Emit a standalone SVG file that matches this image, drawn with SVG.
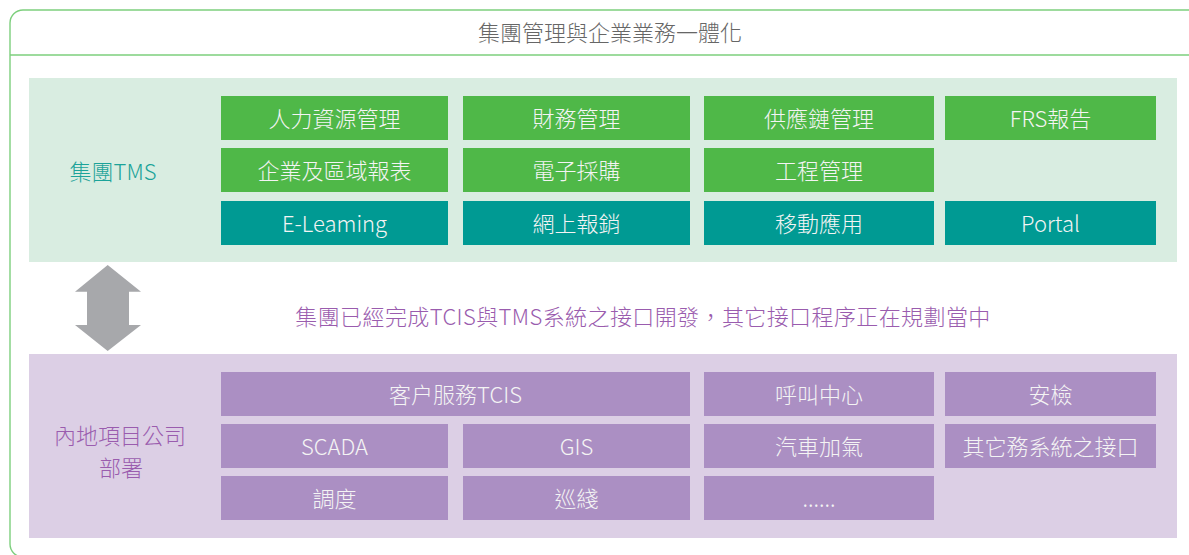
<svg xmlns="http://www.w3.org/2000/svg" width="1189" height="555" viewBox="0 0 1189 555">
  <style>
    text { font-family: "Noto Sans CJK TC", "Noto Sans CJK SC", "Liberation Sans", sans-serif; font-weight: 300; text-anchor: middle; dominant-baseline: central; }
    .title { font-size: 22px; fill: #666666; }
    .lbl { font-size: 22px; fill: #f4f4f4; }
    .g { fill: #4fb848; }
    .t { fill: #009a93; }
    .p { fill: #ab8fc3; }
    .side-g { font-size: 22px; fill: #1ba399; }
    .side-p { font-size: 22px; fill: #9a5cae; }
    .mid { font-size: 22px; fill: #9a5cae; letter-spacing: 0.4px; }
  </style>
  <rect x="10" y="10" width="1192" height="547" rx="13" fill="#ffffff" stroke="#7dcf7d" stroke-width="1.4"/>
  <line x1="10" y1="55" x2="1189" y2="55" stroke="#7dcf7d" stroke-width="1.4"/>
  <text class="title" x="610" y="31">集團管理與企業業務一體化</text>

  <rect x="29" y="78" width="1148" height="184" fill="#d9ede1"/>
  <rect x="29" y="354" width="1148" height="184" fill="#dccfe5"/>

  <g id="group-tms"><text class="side-g" x="113" y="170">集團TMS</text></g>
  <g id="mainland"><text class="side-p" x="120" y="434">內地項目公司</text><text class="side-p" x="121" y="466">部署</text></g>

  <g id="n-hr"><rect class="g" x="221" y="96" width="227" height="44"/><text class="lbl" x="334.5" y="117">人力資源管理</text></g>
  <g id="n-fin"><rect class="g" x="463" y="96" width="227" height="44"/><text class="lbl" x="576.5" y="117">財務管理</text></g>
  <g id="n-scm"><rect class="g" x="704" y="96" width="230" height="44"/><text class="lbl" x="819" y="117">供應鏈管理</text></g>
  <g id="n-frs"><rect class="g" x="945" y="96" width="211" height="44"/><text class="lbl" x="1050.5" y="117">FRS報告</text></g>
  <g id="n-rep"><rect class="g" x="221" y="148" width="227" height="44"/><text class="lbl" x="334.5" y="169">企業及區域報表</text></g>
  <g id="n-ep"><rect class="g" x="463" y="148" width="227" height="44"/><text class="lbl" x="576.5" y="169">電子採購</text></g>
  <g id="n-eng"><rect class="g" x="704" y="148" width="230" height="44"/><text class="lbl" x="819" y="169">工程管理</text></g>
  <g id="n-el"><rect class="t" x="221" y="201" width="227" height="44"/><text class="lbl" x="334.5" y="222">E-Leaming</text></g>
  <g id="n-exp"><rect class="t" x="463" y="201" width="227" height="44"/><text class="lbl" x="576.5" y="222">網上報銷</text></g>
  <g id="n-mob"><rect class="t" x="704" y="201" width="230" height="44"/><text class="lbl" x="819" y="222">移動應用</text></g>
  <g id="n-portal"><rect class="t" x="945" y="201" width="211" height="44"/><text class="lbl" x="1050.5" y="222">Portal</text></g>

  <g id="connectors">
    <polygon points="107.7,265 141,291.7 129,291.7 129,325 141,325 107.7,351 75,325 87,325 87,291.7 75,291.7" fill="#a7a8ab"/>
  </g>
  <text class="mid" x="643" y="315">集團已經完成TCIS與TMS系統之接口開發，其它接口程序正在規劃當中</text>

  <g id="n-tcis"><rect class="p" x="221" y="372" width="469" height="44"/><text class="lbl" x="455.5" y="393">客户服務TCIS</text></g>
  <g id="n-call"><rect class="p" x="704" y="372" width="230" height="44"/><text class="lbl" x="819" y="393">呼叫中心</text></g>
  <g id="n-safe"><rect class="p" x="945" y="372" width="211" height="44"/><text class="lbl" x="1050.5" y="393">安檢</text></g>
  <g id="n-scada"><rect class="p" x="221" y="424" width="227" height="44"/><text class="lbl" x="334.5" y="445">SCADA</text></g>
  <g id="n-gis"><rect class="p" x="463" y="424" width="227" height="44"/><text class="lbl" x="576.5" y="445">GIS</text></g>
  <g id="n-cng"><rect class="p" x="704" y="424" width="230" height="44"/><text class="lbl" x="819" y="445">汽車加氣</text></g>
  <g id="n-other"><rect class="p" x="945" y="424" width="211" height="44"/><text class="lbl" x="1050.5" y="445">其它務系統之接口</text></g>
  <g id="n-disp"><rect class="p" x="221" y="476" width="227" height="44"/><text class="lbl" x="334.5" y="497">調度</text></g>
  <g id="n-patrol"><rect class="p" x="463" y="476" width="227" height="44"/><text class="lbl" x="576.5" y="497">巡綫</text></g>
  <g id="n-more"><rect class="p" x="704" y="476" width="230" height="44"/><text class="lbl" x="819" y="497">......</text></g>
</svg>
